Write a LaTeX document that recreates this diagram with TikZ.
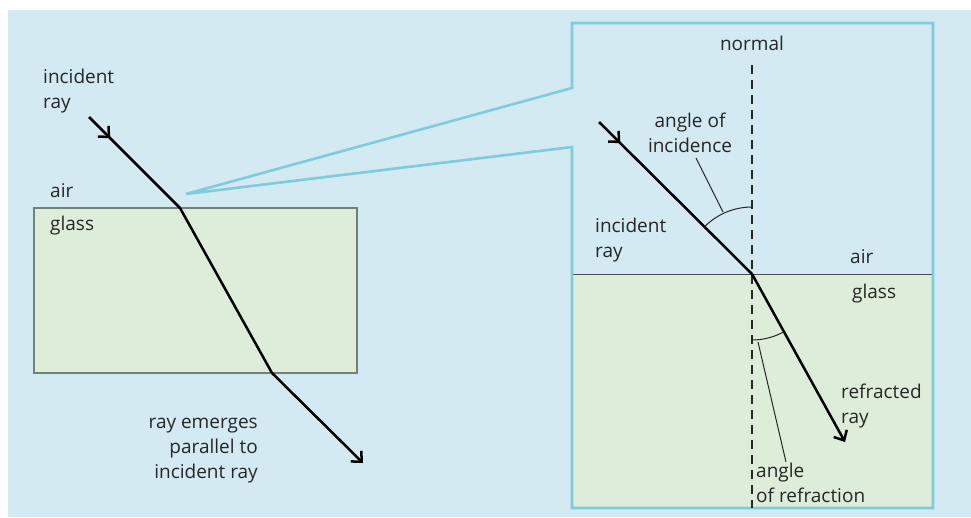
\documentclass[tikz,border=0pt]{standalone}
\usepackage{fontspec}
\setmainfont{Open Sans}
\usetikzlibrary{arrows.meta,decorations.markings}
\definecolor{bgblue}{HTML}{D3EAF3}
\definecolor{glassgreen}{HTML}{DEEDD9}
\definecolor{cyanline}{HTML}{7FCCDC}
\definecolor{glassedge}{HTML}{6F827A}
\definecolor{txt}{HTML}{262626}
\begin{document}
\begin{tikzpicture}[x=1pt,y=-1pt,
  lbl/.style={font=\fontsize{19}{25}\selectfont, text=txt, inner sep=0pt},
  ray/.style={line width=2.5pt, line join=round, black},
  endray/.style={ray, -{Straight Barb[length=8pt,width=15pt]}},
  midarrow/.style={postaction={decorate}, decoration={markings,
      mark=at position 30pt with {\arrow{Straight Barb[length=8pt,width=15pt]}}}},
  thin/.style={line width=1pt, black!85},
  normalline/.style={line width=1.3pt, black!85, dash pattern=on 9pt off 6pt}
]
\useasboundingbox (0,0) rectangle (971,517);
\fill[white] (0,0) rectangle (971,517);
\fill[bgblue] (8,10) rectangle (971,517);

% ---------- left block ----------
\draw[fill=glassgreen, draw=glassedge, line width=1.3pt] (34,208) rectangle (357,373);

\coordinate (L0) at (89,117);
\coordinate (L1) at (180,208);
\coordinate (L2) at (272,373);
\coordinate (L3) at (363,463);
\draw[ray, midarrow] (L0) -- (L1);
\draw[ray] (L1) -- (L2);
\draw[endray] (L2) -- (L3);

\node[lbl, anchor=base west, align=left] (incL) at (43,108) {incident\\ray};
\node[lbl, anchor=base west] (airL) at (50,197) {air};
\node[lbl, anchor=base west] (glassL) at (50,230) {glass};
\node[lbl, anchor=base east, align=right] (emerge) at (258,478) {ray emerges\\parallel to\\incident ray};

% ---------- magnified block ----------
\fill[glassgreen] (572,274) rectangle (933,508);
\draw[line width=1pt, black!70] (572,274) -- (933,274);

\coordinate (Z) at (186,194);
\draw[cyanline, line width=2.6pt, line join=miter]
  (Z) -- (572,88) -- (572,23) -- (933,23) -- (933,508) -- (572,508) -- (572,147) -- cycle;

\coordinate (N0) at (752,65);
\coordinate (N1) at (752,508);
\draw[normalline] (N0) -- (N1);

\coordinate (P) at (752,274);
\coordinate (R0) at (599,122);
\coordinate (R1) at (845,442);
\draw[ray, midarrow] (R0) -- (P);
\draw[endray] (P) -- (R1);

% angle arcs
\draw[thin] ([shift={(225:67)}]P) arc[start angle=225, end angle=270, radius=67];
\draw[thin] ([shift={(61:66)}]P) arc[start angle=61, end angle=90, radius=66];

% leader lines
\coordinate (AI0) at (723,212);
\coordinate (AI1) at (696,158);
\draw[thin] (AI0) -- (AI1);
\coordinate (AR0) at (758,342);
\coordinate (AR1) at (786,462);
\draw[thin] (AR0) -- (AR1);

\node[lbl, anchor=base] (normal) at (752,50) {normal};
\node[lbl, anchor=base, align=center] (aoi) at (690,152) {angle of\\incidence};
\node[lbl, anchor=base west, align=left] (incR) at (595,257) {incident\\ray};
\node[lbl, anchor=base west] (airR) at (850,263) {air};
\node[lbl, anchor=base west] (glassR) at (852,298) {glass};
\node[lbl, anchor=base west, align=left] (refr) at (841,423) {refracted\\ray};
\node[lbl, anchor=base west, align=left] (aor) at (756,502) {angle\\of refraction};
\end{tikzpicture}
\end{document}
